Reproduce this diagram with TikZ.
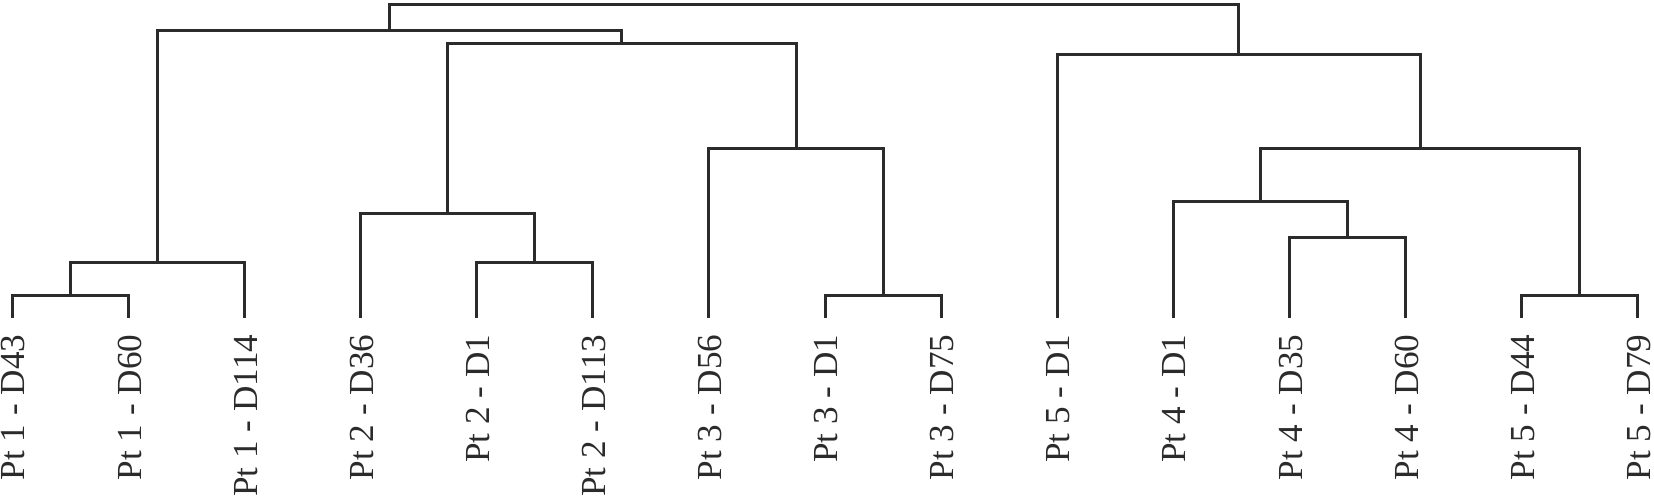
\documentclass[tikz,border=0pt]{standalone}
\usepackage{fontspec}
\setmainfont{Liberation Serif}
\usepackage{tikz}
\usetikzlibrary{positioning,calc}
\definecolor{ink}{HTML}{2B2B2B}

\begin{document}
\begin{tikzpicture}[x=0.01cm,y=-0.01cm,
  br/.style={draw=ink,line width=0.85pt},%
  lab/.style={rotate=90,anchor=east,inner sep=0pt,text=ink,%
    font=\fontsize{10}{12}\selectfont},%
  ]
  \useasboundingbox (0,0) rectangle (1654,496);
  % leaves and labels
  \foreach \t [count=\i] in {Pt 1 - D43,Pt 1 - D60,Pt 1 - D114,Pt 2 - D36,%
    Pt 2 - D1,Pt 2 - D113,Pt 3 - D56,Pt 3 - D1,Pt 3 - D75,Pt 5 - D1,%
    Pt 4 - D1,Pt 4 - D35,Pt 4 - D60,Pt 5 - D44,Pt 5 - D79}{
    \coordinate (l\i) at ({12.3+116.1*(\i-1)},318);
    \node (t\i) [lab] at ({13.5+116.1*(\i-1)},334) {\t};
  }
  % merge points
  \coordinate (p12) at (70.35,295);
  \coordinate (p123) at (157.4,262.7);
  \coordinate (p56) at (534.75,262.7);
  \coordinate (p456) at (447.7,213.3);
  \coordinate (p89) at (883.05,295);
  \coordinate (p789) at (796,148.3);
  \coordinate (p49) at (621.8,43.3);
  \coordinate (pL) at (389.6,30);
  \coordinate (p1213) at (1347.45,237.7);
  \coordinate (p1113) at (1260.4,201.7);
  \coordinate (p1415) at (1579.65,295);
  \coordinate (p1115) at (1420,148.3);
  \coordinate (pR) at (1238.6,54.3);
  \coordinate (root) at (814.1,4.7);
  % brackets
  \draw [br] (l1) |- (p12) -| (l2);
  \draw [br] (p12) |- (p123) -| (l3);
  \draw [br] (l5) |- (p56) -| (l6);
  \draw [br] (l4) |- (p456) -| (p56);
  \draw [br] (l8) |- (p89) -| (l9);
  \draw [br] (l7) |- (p789) -| (p89);
  \draw [br] (p456) |- (p49) -| (p789);
  \draw [br] (p123) |- (pL) -| (p49);
  \draw [br] (l12) |- (p1213) -| (l13);
  \draw [br] (l11) |- (p1113) -| (p1213);
  \draw [br] (l14) |- (p1415) -| (l15);
  \draw [br] (p1113) |- (p1115) -| (p1415);
  \draw [br] (l10) |- (pR) -| (p1115);
  \draw [br] (pL) |- (root) -| (pR);
\end{tikzpicture}
\end{document}
